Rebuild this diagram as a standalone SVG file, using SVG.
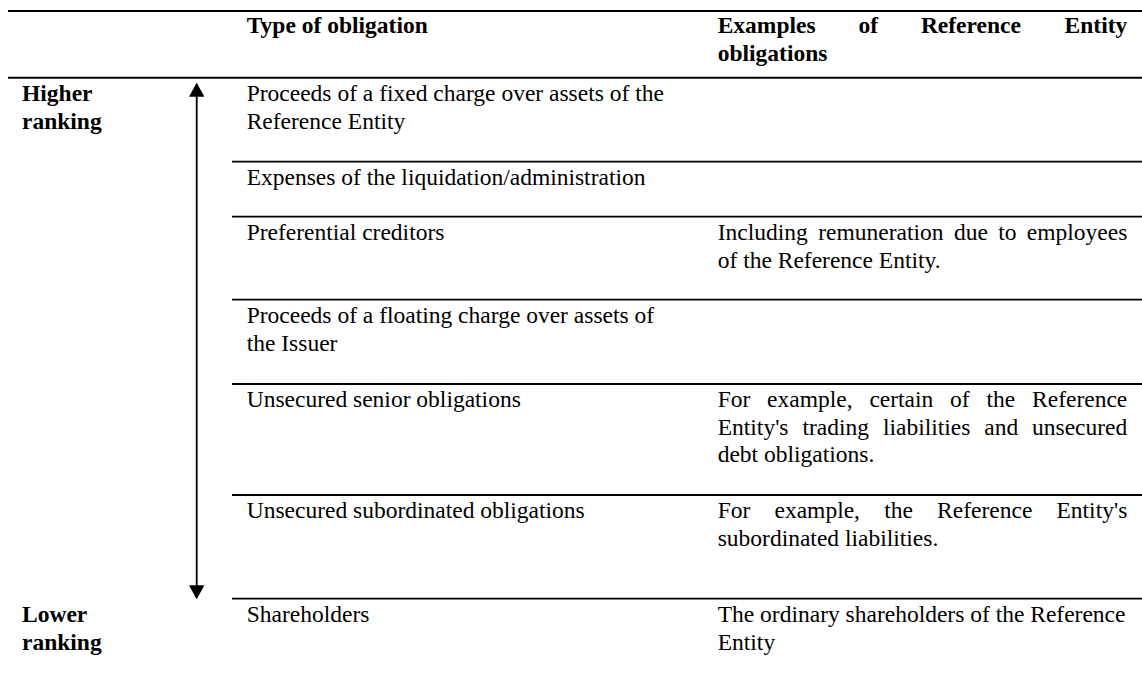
<svg xmlns="http://www.w3.org/2000/svg" width="1142" height="677" viewBox="0 0 1142 677">
<style>
text{font-family:"Liberation Serif","Times New Roman",serif;font-size:23.5px;fill:#000}
.b{font-weight:bold}
.rule{stroke:#000;stroke-width:2;fill:none}
.row{stroke:#000;stroke-width:1.8;fill:none}
.end{text-anchor:end}
</style>
<defs>
<marker id="ah" viewBox="0 0 14 15.4" markerWidth="14" markerHeight="15.4" refX="12" refY="7.7" orient="auto-start-reverse" markerUnits="userSpaceOnUse">
<path d="M0,0 L14,7.7 L0,15.4 Z" fill="#000"/>
</marker>
</defs>
<rect width="1142" height="677" fill="#fff"/>
<g id="header">
<line class="rule" x1="8" y1="11" x2="1142" y2="11"/>
<line class="rule" x1="8" y1="77.7" x2="1142" y2="77.7"/>
<text class="b" x="246.7" y="33.3">Type of obligation</text>
<text class="b" y="33.3"><tspan x="717.7">Examples</tspan><tspan x="858.5">of</tspan><tspan x="920.9">Reference</tspan></text>
<text class="b end" x="1127.3" y="33.3">Entity</text>
<text class="b" x="717.7" y="61">obligations</text>
</g>
<g id="higher-ranking">
<text class="b" x="22" y="100.7">Higher</text>
<text class="b" x="22" y="129.3">ranking</text>
</g>
<g id="lower-ranking">
<text class="b" x="22" y="622">Lower</text>
<text class="b" x="22" y="650">ranking</text>
</g>
<g id="connectors">
<line x1="196.7" y1="84.7" x2="196.7" y2="597.3" stroke="#000" stroke-width="1.8" marker-start="url(#ah)" marker-end="url(#ah)"/>
</g>
<g id="row-fixed-charge">
<text x="246.7" y="100.7">Proceeds of a fixed charge over assets of the</text>
<text x="246.7" y="129.3">Reference Entity</text>
</g>
<g id="row-expenses">
<line class="row" x1="232" y1="161.7" x2="1142" y2="161.7"/>
<text x="246.7" y="185">Expenses of the liquidation/administration</text>
</g>
<g id="row-preferential">
<line class="row" x1="232" y1="216.7" x2="1142" y2="216.7"/>
<text x="246.7" y="240">Preferential creditors</text>
<text y="240"><tspan x="717.7">Including</tspan><tspan x="818.2">remuneration</tspan><tspan x="953.9">due</tspan><tspan x="998.2">to</tspan></text>
<text class="end" x="1127.3" y="240">employees</text>
<text x="717.7" y="268">of the Reference Entity.</text>
</g>
<g id="row-floating-charge">
<line class="row" x1="232" y1="299.7" x2="1142" y2="299.7"/>
<text x="246.7" y="323">Proceeds of a floating charge over assets of</text>
<text x="246.7" y="351">the Issuer</text>
</g>
<g id="row-senior">
<line class="row" x1="232" y1="384" x2="1142" y2="384"/>
<text x="246.7" y="407">Unsecured senior obligations</text>
<text y="407"><tspan x="717.7">For</tspan><tspan x="767.1">example,</tspan><tspan x="869.4">certain</tspan><tspan x="950.1">of</tspan><tspan x="986.5">the</tspan></text>
<text class="end" x="1127.3" y="407">Reference</text>
<text y="434.5"><tspan x="717.7">Entity's</tspan><tspan x="802.4">trading</tspan><tspan x="882.9">liabilities</tspan><tspan x="984.3">and</tspan></text>
<text class="end" x="1127.3" y="434.5">unsecured</text>
<text x="717.7" y="462">debt obligations.</text>
</g>
<g id="row-subordinated">
<line class="row" x1="232" y1="495" x2="1142" y2="495"/>
<text x="246.7" y="518">Unsecured subordinated obligations</text>
<text y="518"><tspan x="717.7">For</tspan><tspan x="774.5">example,</tspan><tspan x="884.2">the</tspan><tspan x="937.1">Reference</tspan></text>
<text class="end" x="1127.3" y="518">Entity's</text>
<text x="717.7" y="546">subordinated liabilities.</text>
</g>
<g id="row-shareholders">
<line class="row" x1="232" y1="598.7" x2="1142" y2="598.7"/>
<text x="246.7" y="622">Shareholders</text>
<text x="717.7" y="622">The ordinary shareholders of the Reference</text>
<text x="717.7" y="650">Entity</text>
</g>
</svg>
